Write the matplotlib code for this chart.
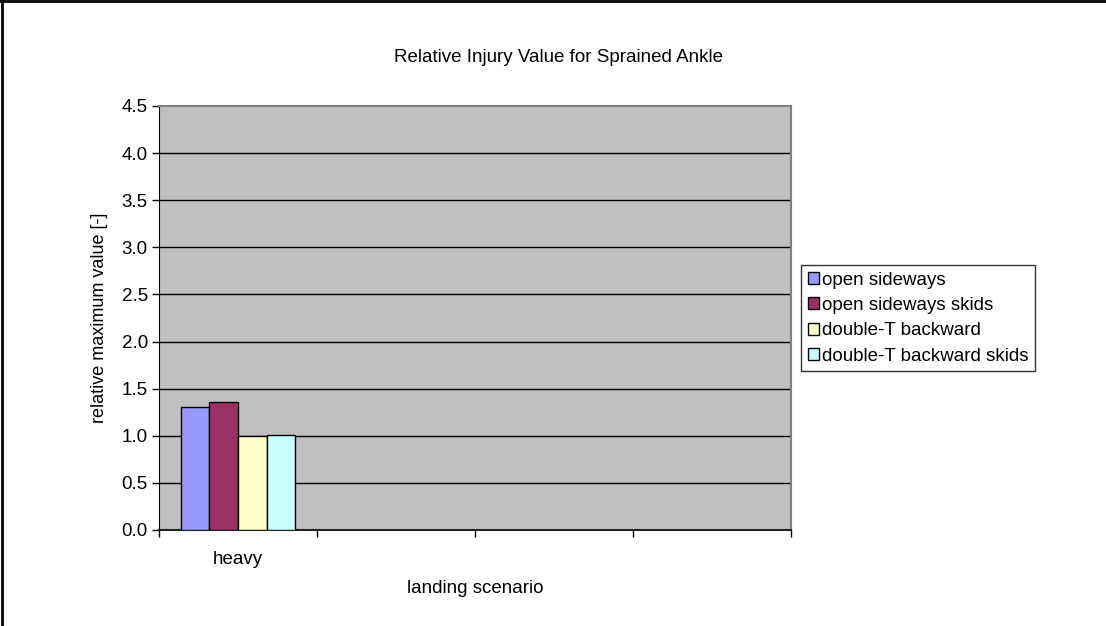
import numpy as np
import matplotlib
matplotlib.use('Agg')
import matplotlib.pyplot as plt
from matplotlib.lines import Line2D

plt.rcParams['font.family'] = ['Liberation Sans', 'DejaVu Sans']

# landing scenarios (only the first one has results so far)
categories = ['heavy', '', '', '']
series_names = ['open sideways', 'open sideways skids',
                'double-T backward', 'double-T backward skids']
open_sideways = [1.31, np.nan, np.nan, np.nan]
open_sideways_skids = [1.36, np.nan, np.nan, np.nan]
double_t_backward = [1.0, np.nan, np.nan, np.nan]
double_t_backward_skids = [1.01, np.nan, np.nan, np.nan]
colors = ['#9999FF', '#993366', '#FFFFCC', '#CCFFFF']
yticks = [0.0, 0.5, 1.0, 1.5, 2.0, 2.5, 3.0, 3.5, 4.0, 4.5]

W, H = 1106, 626
fig = plt.figure(figsize=(W / 100, H / 100), dpi=100)
fig.patch.set_facecolor('white')
ax = fig.add_axes([159 / W, (H - 530) / H, (791 - 159) / W, (530 - 106) / H])
ax.set_facecolor('#C0C0C0')

fs = 13.5
series = [open_sideways, open_sideways_skids, double_t_backward, double_t_backward_skids]
n = len(series)
bw = 1.0 / (n + 1.5)   # gap width 150 %
x = np.arange(len(categories)) + 0.5
handles = []
for j, (vals, name, c) in enumerate(zip(series, series_names, colors)):
    b = ax.bar(x + (j - (n - 1) / 2) * bw, vals, width=bw, color=c,
               edgecolor='black', linewidth=1.0, label=name, zorder=3)
    handles.append(b)

ax.set_xlim(0, len(categories))
ax.set_ylim(0, 4.5)
ax.set_yticks(yticks)
ax.set_yticklabels(['%.1f' % v for v in yticks], fontsize=fs)
for v in yticks[1:-1]:
    ax.axhline(v, color='black', linewidth=1.0, zorder=1)

# category boundaries carry the tick marks, labels sit in the middle
ax.set_xticks(np.arange(len(categories) + 1))
ax.set_xticklabels([])
ax.set_xticks(x, minor=True)
ax.set_xticklabels(categories, minor=True, fontsize=fs)
ax.tick_params(axis='x', which='minor', length=0, pad=15)
ax.tick_params(axis='x', which='major', length=5, direction='out', width=1)
ax.tick_params(axis='y', length=5, direction='out', width=1, pad=3)

for side in ['top', 'right']:
    ax.spines[side].set_color('#808080')
    ax.spines[side].set_linewidth(1.5)
ax.spines['left'].set_color('black')
ax.spines['bottom'].set_color('#202020')
ax.spines['bottom'].set_linewidth(1.5)

ax.set_ylabel('relative maximum value [-]', fontsize=13, labelpad=10)
ax.set_xlabel('landing scenario', fontsize=fs, labelpad=9)
fig.text(558 / W, 1 - 57 / H, 'Relative Injury Value for Sprained Ankle',
         ha='center', va='center', fontsize=fs)

leg = ax.legend(handles=handles, loc='upper left',
                bbox_to_anchor=(801 / W, 1 - 265 / H), bbox_transform=fig.transFigure,
                fontsize=fs, frameon=True, fancybox=False, borderpad=0.35,
                handlelength=0.6, handleheight=0.6, handletextpad=0.15,
                labelspacing=0.45, borderaxespad=0)
leg.get_frame().set_edgecolor('black')
leg.get_frame().set_linewidth(1.0)

# outer chart border
fig.add_artist(Line2D([0, 1], [1 - 1 / H, 1 - 1 / H], color='black', linewidth=2))
fig.add_artist(Line2D([2 / W, 2 / W], [0, 1], color='black', linewidth=2))

fig.savefig('out.png', dpi=100)
